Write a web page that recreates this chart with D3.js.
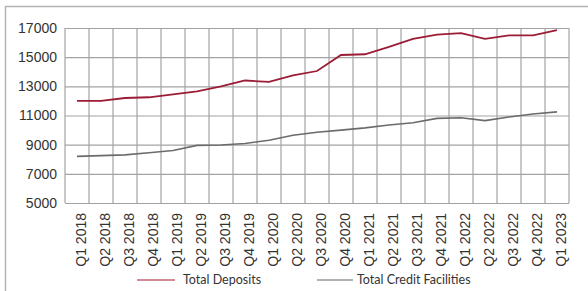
<!DOCTYPE html>
<html>
<head>
<meta charset="utf-8">
<script src="https://cdn.jsdelivr.net/npm/d3@7"></script>
<style>
  html, body { margin: 0; padding: 0; background: #fff; }
  svg { display: block; }
  .axis text { font-family: 'Liberation Sans Narrow', 'Liberation Sans', Arial, sans-serif; font-size: 14px; fill: #333; }
  .legend text { font-family: Lato, 'Open Sans', sans-serif; font-size: 12.5px; fill: #333; }
</style>
</head>
<body>
<svg id="chart" width="588" height="291"></svg>
<script>
const quarters = ['Q1 2018', 'Q2 2018', 'Q3 2018', 'Q4 2018', 'Q1 2019', 'Q2 2019', 'Q3 2019',
  'Q4 2019', 'Q1 2020', 'Q2 2020', 'Q3 2020', 'Q4 2020', 'Q1 2021', 'Q2 2021', 'Q3 2021',
  'Q4 2021', 'Q1 2022', 'Q2 2022', 'Q3 2022', 'Q4 2022', 'Q1 2023']

const totalDeposits = [12000, 12000, 12200, 12250, 12450, 12650, 13000, 13400, 13300, 13750, 14050,
  15150, 15200, 15700, 16250, 16550, 16650, 16250, 16500, 16500, 16850]

const totalCredit = [8200, 8250, 8300, 8450, 8600, 8950, 8980, 9080, 9300, 9650, 9850,
  10000, 10150, 10350, 10500, 10800, 10850, 10650, 10900, 11100, 11250]

const yTicks = [5000, 7000, 9000, 11000, 13000, 15000, 17000]

const seriesNames = ['Total Deposits', 'Total Credit Facilities']
const seriesColors = ['#9b1c34', '#6b6b6b']

const props = { left: 65, right: 569, top: 28, bottom: 203 }

const svg = d3.select('#chart')

// outer frame, runs off the right and bottom edges
svg.append('rect')
  .attr('x', 5.5).attr('y', 6.5)
  .attr('width', 700).attr('height', 400)
  .attr('fill', 'none')
  .attr('stroke', '#b4b4b4')
  .attr('stroke-width', 1.5)

const xScale = d3.scaleBand()
  .domain(quarters)
  .range([props.left, props.right])
  .padding(0)

const yScale = d3.scaleLinear()
  .domain([yTicks[0], yTicks[yTicks.length - 1]])
  .range([props.bottom, props.top])

const cx = d => xScale(d) + xScale.bandwidth() / 2

// horizontal grid + y labels
const yAxis = d3.axisLeft(yScale)
  .tickValues(yTicks)
  .tickSize(-(props.right - props.left))
  .tickFormat(d => d)

const gy = svg.append('g')
  .attr('class', 'axis')
  .attr('transform', `translate(${props.left},0)`)
  .call(yAxis)
gy.select('.domain').remove()
gy.selectAll('.tick line').attr('stroke', '#a3a3a3').attr('stroke-width', 1.2)
gy.selectAll('.tick text').attr('x', -8)

// vertical grid at band edges
const edges = quarters.map(q => xScale(q)).concat([xScale.range()[1]])
svg.append('g')
  .selectAll('line')
  .data(edges)
  .join('line')
  .attr('x1', d => d).attr('x2', d => d)
  .attr('y1', props.top).attr('y2', props.bottom)
  .attr('stroke', '#a3a3a3')
  .attr('stroke-width', 1.2)

// rotated quarter labels
svg.append('g')
  .attr('class', 'axis')
  .selectAll('text')
  .data(quarters)
  .join('text')
  .attr('transform', d => `translate(${cx(d) + 4.5},213) rotate(-90)`)
  .attr('text-anchor', 'end')
  .attr('dy', '0.35em')
  .text(d => d)

const lineGenerator = d3.line()
  .x((d, i) => cx(quarters[i]))
  .y(d => yScale(d))

svg.append('path')
  .datum(totalCredit)
  .attr('d', lineGenerator)
  .attr('fill', 'none')
  .attr('stroke', seriesColors[1])
  .attr('stroke-width', 1.6)

svg.append('path')
  .datum(totalDeposits)
  .attr('d', lineGenerator)
  .attr('fill', 'none')
  .attr('stroke', seriesColors[0])
  .attr('stroke-width', 1.8)

// legend
const legendPos = [{ x: 137, w: 38 }, { x: 317, w: 36 }]
const legend = svg.append('g').attr('class', 'legend')
seriesNames.forEach((name, i) => {
  const p = legendPos[i]
  legend.append('line')
    .attr('x1', p.x).attr('x2', p.x + p.w)
    .attr('y1', 280).attr('y2', 280)
    .attr('stroke', i === 0 ? '#bf6474' : '#999')
    .attr('stroke-width', 1.6)
  legend.append('text')
    .attr('x', p.x + p.w + (i === 0 ? 8 : 4))
    .attr('y', 280)
    .attr('dy', '0.35em')
    .text(name)
})
</script>
</body>
</html>
